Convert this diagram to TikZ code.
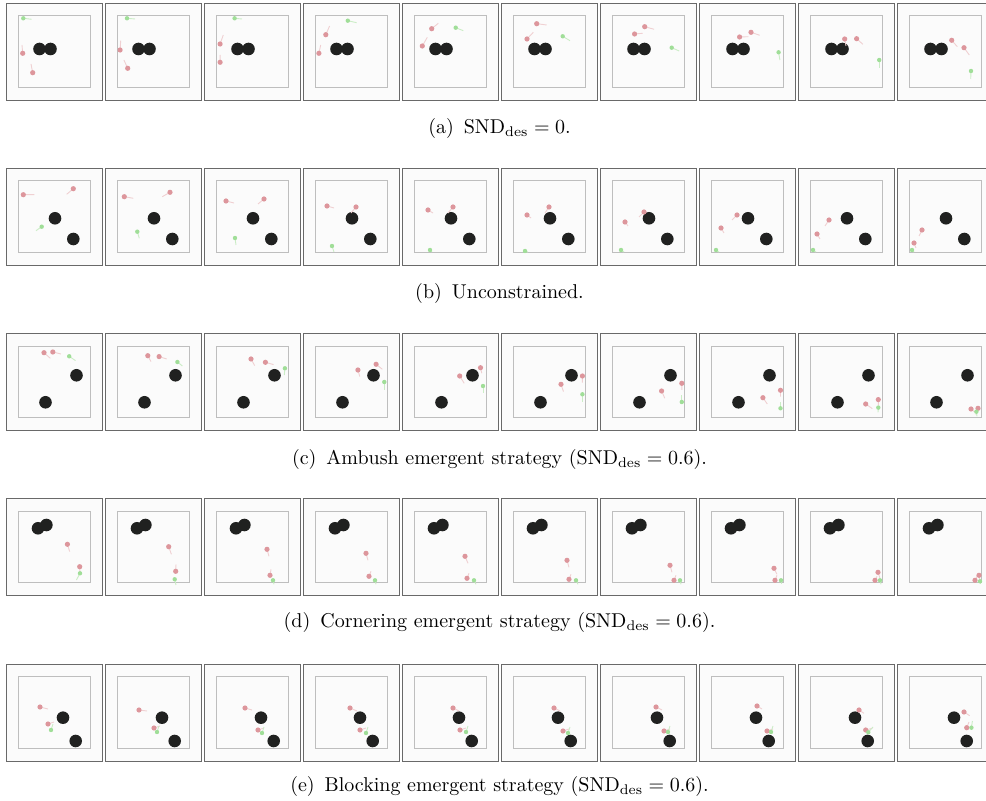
\documentclass[tikz,border=0pt]{standalone}
\usepackage{tikz}

\definecolor{pursuercol}{RGB}{221,150,156}
\definecolor{evadercol}{RGB}{160,222,152}
\definecolor{obstaclecol}{RGB}{32,33,32}
\definecolor{framecol}{RGB}{105,105,105}
\definecolor{arenacol}{RGB}{190,190,190}
\definecolor{floorcol}{RGB}{251,251,251}

% one snapshot of the arena, local units are pixels of the figure
\newcommand{\arena}{%
  \draw[framebox] (0,0) rectangle (96,97);
  \draw[arenabox] (12.7,12.7) rectangle (84,84.5);}

\begin{document}
\begin{tikzpicture}[x=0.5pt,y=-0.5pt,
  framebox/.style={draw=framecol,fill=floorcol,line width=0.45pt},
  arenabox/.style={draw=arenacol,line width=0.45pt},
  obstacle/.style={fill=obstaclecol},
  pursuer/.style={fill=pursuercol},
  evader/.style={fill=evadercol},
  ptrail/.style={draw=pursuercol!45,line width=0.45pt},
  etrail/.style={draw=evadercol!55,line width=0.45pt},
  caption/.style={font=\normalsize,inner sep=0pt}]
\useasboundingbox (0,0) rectangle (986,801);
\clip (0,0) rectangle (986,801);

% (a) SND_des = 0
\foreach \k/\pa/\ta/\pb/\tb/\ev/\te in {
  0/{16.7,50.3}/{16,42}/{26.7,69.7}/{25,61}/{17.3,15.3}/{25.7,16.3},
  1/{15.1,47}/{15.7,37.7}/{22.7,65.3}/{18.9,57}/{22,15.3}/{30,16},
  2/{16.1,41}/{19.3,32}/{16.1,59.3}/{16.1,52}/{30.6,15.3}/{38,16},
  3/{22.8,31.7}/{26.6,23}/{15.9,50.3}/{17.7,42}/{44.8,17.7}/{53.6,19.7},
  4/{29.7,25.7}/{36.3,20.3}/{20.3,43}/{25.3,34.3}/{53.7,24.7}/{61.3,27.7},
  5/{35.7,20.7}/{45.7,22}/{26,36}/{32.3,29.3}/{61.7,33.3}/{69,37.7},
  6/{44.7,23.7}/{54.1,26.3}/{34.6,31}/{42.7,30.3}/{71.7,44.7}/{79.2,48},
  7/{52,29.3}/{60.7,32.3}/{40.6,34}/{49.4,33.7}/{79.6,49.3}/{80.9,57},
  8/{46.7,36}/{48,43}/{58.6,35.7}/{64.9,41.3}/{81.2,57}/{81.2,65.3},
  9/{54.7,37.3}/{60.3,43.7}/{67,44.7}/{72.3,52}/{74,68}/{73.7,76}}{
  \begin{scope}[shift={(6+99*\k,3)}]
    \arena
    \fill[obstacle] (33.5,46) circle (3.15pt) (44.5,46) circle (3.15pt);
    \draw[ptrail] (\pa) -- (\ta) (\pb) -- (\tb);
    \draw[etrail] (\ev) -- (\te);
    \fill[pursuer] (\pa) circle (1.3pt) (\pb) circle (1.3pt);
    \fill[evader] (\ev) circle (1.1pt);
  \end{scope}
}
\node[caption] (capa) at (499.5,128.5) {(a)\enskip SND$_{\mathrm{des}}=0$.};

% (b) unconstrained
\foreach \k/\pa/\ta/\pb/\tb/\ev/\te in {
  0/{17.3,26.7}/{28.3,26.7}/{67.3,20.7}/{60.7,26.3}/{35.7,58.7}/{30,62.7},
  1/{19.3,28.7}/{28.3,30.3}/{65,24.3}/{57.3,28.7}/{32.3,63.7}/{34.3,70.3},
  2/{22,33}/{30,35}/{60,31}/{54,36}/{31,70}/{32,77},
  3/{24,38}/{31,40}/{53,39}/{48,45}/{29,78}/{31,84},
  4/{26,42}/{31,45}/{51,39}/{46,45}/{28,82}/{30,84},
  5/{26,47}/{30,50}/{48,39}/{44,45}/{24,83}/{27,84},
  6/{25,54}/{28,58}/{44,44}/{39,49}/{21,82}/{24,84},
  7/{22,60}/{25,65}/{38,47}/{33,52}/{17,82}/{20,84},
  8/{19,66}/{22,71}/{31,52}/{27,58}/{15,82}/{18,84},
  9/{17,75}/{19,80}/{25,62}/{22,68}/{15,82}/{17,84}}{
  \begin{scope}[shift={(6+99*\k,168)}]
    \arena
    \fill[obstacle] (49,50.3) circle (3.15pt) (67.3,71) circle (3.15pt);
    \draw[ptrail] (\pa) -- (\ta) (\pb) -- (\tb);
    \draw[etrail] (\ev) -- (\te);
    \fill[pursuer] (\pa) circle (1.3pt) (\pb) circle (1.3pt);
    \fill[evader] (\ev) circle (1.1pt);
  \end{scope}
}
\node[caption] (capb) at (499.5,294) {(b)\enskip Unconstrained.};

% (c) ambush
\foreach \k/\pa/\ta/\pb/\tb/\ev/\te in {
  0/{38,19.4}/{44.3,25}/{46.8,18.7}/{55,20.7}/{63.2,23}/{69.5,27.3},
  1/{42.8,22.4}/{46,28.3}/{54.1,23.3}/{61.7,25.7}/{72.4,28.7}/{77.4,32.7},
  2/{47,25.7}/{50.7,32.3}/{61.4,29}/{69.6,31.3}/{80.9,35}/{80.3,41.7},
  3/{54.9,36.7}/{56.8,43.3}/{73.1,31}/{79.4,36}/{81.3,48.7}/{81.3,56.7},
  4/{57.7,42.7}/{62.2,50}/{78.5,34.4}/{79.8,40}/{81,52.7}/{81,60},
  5/{60,51}/{62.5,58.3}/{81.4,42.7}/{81.4,49.3}/{81.4,61}/{81.4,68.3},
  6/{61.6,57.7}/{64.8,65}/{81.8,50}/{81.8,56.7}/{81.8,68.7}/{81.8,62},
  7/{63.9,64.4}/{68.3,70.7}/{81.5,57}/{81.5,63.3}/{81.5,75}/{81.5,69},
  8/{67.7,70.7}/{74.3,75.3}/{80.3,66.3}/{80.3,72}/{80.3,74.3}/{80,79},
  9/{74,75.7}/{78,79}/{81,75}/{79,81.7}/{79.4,78.4}/{80,83}}{
  \begin{scope}[shift={(6+99*\k,333.3)}]
    \arena
    \fill[obstacle] (70.5,42) circle (3.15pt) (39.5,69) circle (3.15pt);
    \draw[ptrail] (\pa) -- (\ta) (\pb) -- (\tb);
    \draw[etrail] (\ev) -- (\te);
    \fill[pursuer] (\pa) circle (1.3pt) (\pb) circle (1.3pt);
    \fill[evader] (\ev) circle (1.1pt);
  \end{scope}
}
\node[caption] (capc) at (499.5,459.5) {(c)\enskip Ambush emergent strategy (SND$_{\mathrm{des}}=0.6$).};

% (d) cornering
\foreach \k/\pa/\ta/\pb/\tb/\ev/\te in {
  0/{61.4,46}/{63.7,53.3}/{73.7,68.4}/{74,74}/{74,75}/{70.4,81.7},
  1/{63.7,48.4}/{66.4,56}/{70.7,73}/{71,66}/{69.7,81}/{71,86.7},
  2/{63,51}/{65,58}/{66,77}/{67,71}/{69,82}/{70,86},
  3/{63,55}/{65,62}/{66,78}/{68,73}/{72,82}/{73,86},
  4/{63,58}/{66,65}/{65,80}/{67,75}/{72,82}/{74,86},
  5/{66,62}/{68,69}/{68,81}/{70,76}/{75,82}/{77,86},
  6/{70,67}/{72,74}/{74,82}/{76,77}/{80,82}/{81,86},
  7/{75,70}/{78,76}/{76,82}/{78,77}/{82,82}/{82,86},
  8/{80,74}/{82,80}/{77,82}/{79,78}/{82,82}/{83,86},
  9/{82,77}/{83,82}/{78,82}/{80,78}/{83,83}/{83,86}}{
  \begin{scope}[shift={(6+99*\k,498.3)}]
    \arena
    \fill[obstacle] (32,30) circle (3.15pt) (40.4,26.7) circle (3.15pt);
    \draw[ptrail] (\pa) -- (\ta) (\pb) -- (\tb);
    \draw[etrail] (\ev) -- (\te);
    \fill[pursuer] (\pa) circle (1.3pt) (\pb) circle (1.3pt);
    \fill[evader] (\ev) circle (1.1pt);
  \end{scope}
}
\node[caption] (capd) at (499.5,623) {(d)\enskip Cornering emergent strategy (SND$_{\mathrm{des}}=0.6$).};

% (e) blocking
\foreach \k/\pa/\ta/\pb/\tb/\ev/\te in {
  0/{34,43}/{42,45}/{42,60}/{48,58}/{45,66}/{47,60},
  1/{34,46}/{42,47}/{49,64}/{55,62}/{52,68}/{54,62},
  2/{41,44}/{48,46}/{54,66}/{60,64}/{58,69}/{60,63},
  3/{47,44}/{54,47}/{57,66}/{63,64}/{63,69}/{65,63},
  4/{51,44}/{57,47}/{58,66}/{64,64}/{64,68}/{66,62},
  5/{53,44}/{59,47}/{62,67}/{68,65}/{67,69}/{69,63},
  6/{56,43}/{62,46}/{64,67}/{70,65}/{68,68}/{70,62},
  7/{58,42}/{63,45}/{68,67}/{74,65}/{72,68}/{74,62},
  8/{61,46}/{66,49.3}/{67.7,66}/{74.3,64.3}/{70.3,68.3}/{75,63},
  9/{67,48}/{72.7,51.7}/{69.7,63.7}/{72,58}/{74.4,63.7}/{75.4,57}}{
  \begin{scope}[shift={(6+99*\k,664)}]
    \arena
    \fill[obstacle] (57,53.7) circle (3.15pt) (69.7,77) circle (3.15pt);
    \draw[ptrail] (\pa) -- (\ta) (\pb) -- (\tb);
    \draw[etrail] (\ev) -- (\te);
    \fill[pursuer] (\pa) circle (1.3pt) (\pb) circle (1.3pt);
    \fill[evader] (\ev) circle (1.1pt);
  \end{scope}
}
\node[caption] (cape) at (499.5,787) {(e)\enskip Blocking emergent strategy (SND$_{\mathrm{des}}=0.6$).};
\end{tikzpicture}
\end{document}
